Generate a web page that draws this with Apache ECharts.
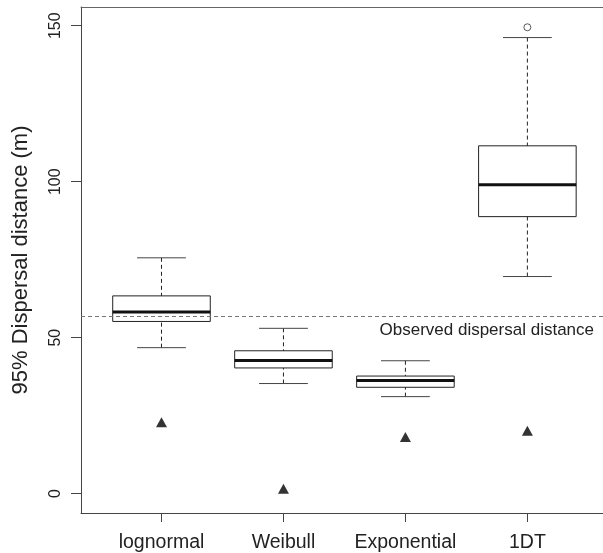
<!DOCTYPE html>
<html>
<head>
<meta charset="utf-8">
<script src="https://cdn.jsdelivr.net/npm/echarts@6/dist/echarts.min.js"></script>
<style>
  html, body { margin: 0; padding: 0; background: #fff; }
  #chart { width: 603px; height: 553px; }
</style>
</head>
<body>
<div id="chart"></div>
<script>
// categories and box statistics
const categories = ['lognormal', 'Weibull', 'Exponential', '1DT']
const lowerWhisker = [46.8, 35.3, 31.1, 69.6]
const q1 = [55.2, 40.3, 34.1, 88.8]
const median = [58.2, 42.7, 36.3, 99.0]
const q3 = [63.4, 45.8, 37.7, 111.5]
const upperWhisker = [75.6, 53.0, 42.6, 146.2]
// outliers: [category index (1-based), value]
const outliers = [[4, 149.5]]
// filled triangles under each box
const triangleValues = [22.9, 1.6, 18.2, 20.2]
const observedDistance = 56.8
const yTicks = [0, 50, 100, 150]
const xTicks = [1, 2, 3, 4]

const font = 'Liberation Sans, Arial, sans-serif'
const boxHalf = 0.4
const capHalf = 0.2

const boxData = categories.map((c, i) => [i + 1, lowerWhisker[i], q1[i], median[i], q3[i], upperWhisker[i]])
const triangleData = triangleValues.map((v, i) => [i + 1, v])

const chart = echarts.init(document.getElementById('chart'))

// R-style box: dashed whiskers, solid caps, thick median
const renderBox = (params, api) => {
  const x = api.value(0)
  const p = (xx, yy) => api.coord([xx, yy])
  const lo = p(x, api.value(1))
  const b1 = p(x, api.value(2))
  const medY = p(x, api.value(3))[1]
  const b3 = p(x, api.value(4))
  const hi = p(x, api.value(5))
  const left = p(x - boxHalf, 0)[0]
  const right = p(x + boxHalf, 0)[0]
  const capL = p(x - capHalf, 0)[0]
  const capR = p(x + capHalf, 0)[0]
  const dashStyle = { stroke: '#222', lineWidth: 1, lineDash: [4, 3] }
  const solid = { stroke: '#444', lineWidth: 1 }
  return {
    type: 'group',
    children: [
      { type: 'line', shape: { x1: hi[0], y1: hi[1], x2: b3[0], y2: b3[1] }, style: dashStyle },
      { type: 'line', shape: { x1: lo[0], y1: lo[1], x2: b1[0], y2: b1[1] }, style: dashStyle },
      { type: 'line', shape: { x1: capL, y1: hi[1], x2: capR, y2: hi[1] }, style: solid },
      { type: 'line', shape: { x1: capL, y1: lo[1], x2: capR, y2: lo[1] }, style: solid },
      {
        type: 'rect',
        shape: { x: left, y: b3[1], width: right - left, height: b1[1] - b3[1] },
        style: { fill: 'none', stroke: '#222', lineWidth: 1 }
      },
      { type: 'line', shape: { x1: left, y1: medY, x2: right, y2: medY }, style: { stroke: '#111', lineWidth: 3 } }
    ]
  }
}

// plot box runs past the right edge of the picture, so no right border
const xMin = 0.34
const xMax = 4.62

const option = {
  animation: false,
  backgroundColor: '#fff',
  grid: {
    left: 81,
    right: 0,
    top: 7,
    bottom: 40,
    show: false,
    containLabel: false
  },
  xAxis: [
    {
      type: 'value',
      min: xMin,
      max: xMax,
      splitLine: { show: false },
      axisLine: { show: true, onZero: false, lineStyle: { color: '#444', width: 1 } },
      axisTick: { show: true, length: 9, customValues: xTicks, lineStyle: { color: '#444' } },
      axisLabel: {
        customValues: xTicks,
        formatter: v => categories[Math.round(v) - 1] || '',
        fontFamily: font,
        fontSize: 19.5,
        color: '#222',
        margin: 20
      }
    },
    {
      type: 'value',
      position: 'top',
      min: xMin,
      max: xMax,
      splitLine: { show: false },
      axisLine: { show: true, onZero: false, lineStyle: { color: '#666', width: 1 } },
      axisTick: { show: false },
      axisLabel: { show: false }
    }
  ],
  yAxis: {
    type: 'value',
    min: -6.2,
    max: 156,
    name: '95% Dispersal distance (m)',
    nameLocation: 'middle',
    nameRotate: 90,
    nameGap: 49,
    nameTextStyle: { fontFamily: font, fontSize: 22, color: '#222' },
    splitLine: { show: false },
    axisLine: { show: true, onZero: false, lineStyle: { color: '#444', width: 1 } },
    axisTick: { show: true, length: 10, customValues: yTicks, lineStyle: { color: '#444' } },
    axisLabel: {
      customValues: yTicks,
      rotate: 90,
      fontFamily: font,
      fontSize: 16,
      color: '#222',
      margin: 17
    }
  },
  series: [
    {
      type: 'custom',
      renderItem: renderBox,
      data: boxData,
      encode: { x: 0, y: [1, 2, 3, 4, 5] },
      z: 2
    },
    {
      type: 'scatter',
      data: triangleData,
      symbol: 'triangle',
      symbolSize: [11, 10],
      itemStyle: { color: '#000' },
      z: 3
    },
    {
      type: 'scatter',
      data: outliers,
      symbol: 'circle',
      symbolSize: 7,
      itemStyle: { color: '#fff', borderColor: '#333', borderWidth: 1 },
      z: 3
    },
    {
      type: 'line',
      data: [],
      markLine: {
        silent: true,
        symbol: 'none',
        lineStyle: { color: '#777', type: [4, 3], width: 1 },
        label: {
          show: true,
          position: 'insideEndBottom',
          distance: [9, 5],
          formatter: 'Observed dispersal distance',
          fontFamily: font,
          fontSize: 17,
          color: '#222'
        },
        data: [{ yAxis: observedDistance }]
      },
      z: 4
    }
  ]
}

chart.setOption(option)
</script>
</body>
</html>
